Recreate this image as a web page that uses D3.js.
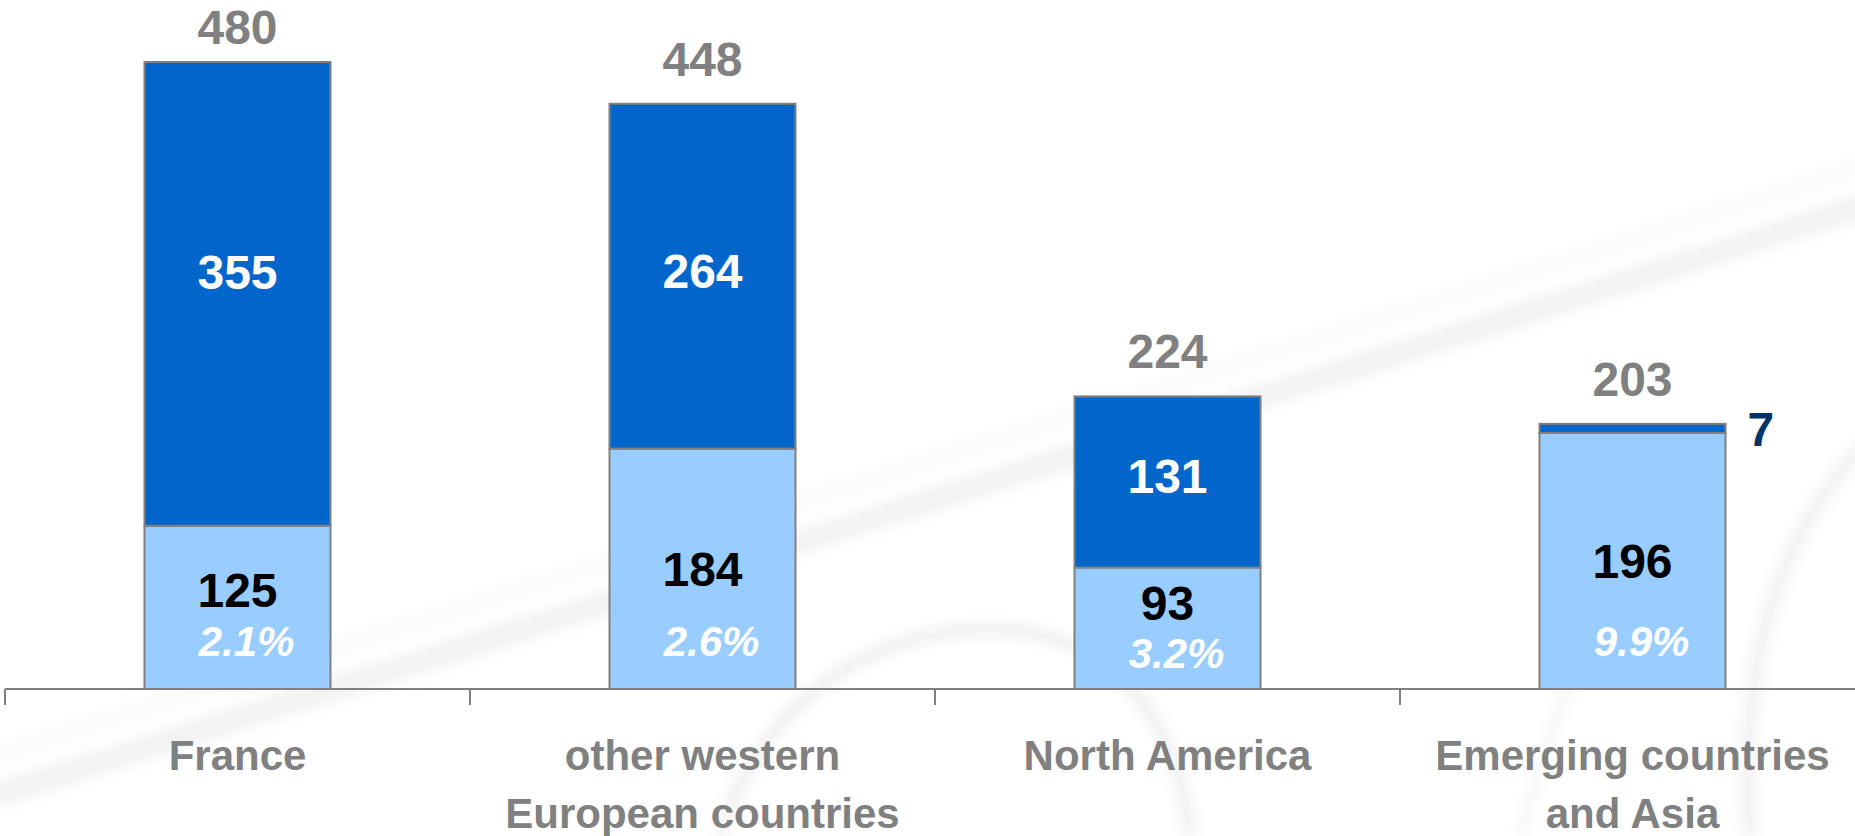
<!DOCTYPE html>
<html>
<head>
<meta charset="utf-8">
<script src="https://cdn.jsdelivr.net/npm/d3@7"></script>
<style>
  html, body { margin: 0; padding: 0; background: #ffffff; }
  svg { display: block; }
  text { font-family: "Liberation Sans", Arial, sans-serif; font-weight: bold; }
</style>
</head>
<body>
<svg id="chart" width="1855" height="836"></svg>
<script>
// Regions and their two revenue components
const categories = ["France", "other western\nEuropean countries", "North America", "Emerging countries\nand Asia"];
const baseValues = [125, 184, 93, 196];
const topValues = [355, 264, 131, 7];
const totals = [480, 448, 224, 203];
const growthLabels = ["2.1%", "2.6%", "3.2%", "9.9%"];

const W = 1855, H = 836;
const svg = d3.select("#chart");

// Soft decorative swooshes in the background
const defs = svg.append("defs");
defs.append("filter").attr("id", "soft").attr("x", "-20%").attr("y", "-20%").attr("width", "140%").attr("height", "140%")
  .append("feGaussianBlur").attr("stdDeviation", 7);
const deco = svg.append("g").attr("filter", "url(#soft)");
deco.append("path")
  .attr("d", "M -20 800 C 500 640, 1200 420, 1880 200")
  .attr("fill", "none").attr("stroke", "#f2f2f2").attr("stroke-width", 24);
deco.append("path")
  .attr("d", "M -20 760 C 500 600, 1200 380, 1880 160")
  .attr("fill", "none").attr("stroke", "#f8f8f8").attr("stroke-width", 12);
deco.append("path")
  .attr("d", "M 720 836 C 760 700, 880 620, 1010 630 C 1130 640, 1180 740, 1190 836")
  .attr("fill", "none").attr("stroke", "#ebebeb").attr("stroke-width", 10);
deco.append("path")
  .attr("d", "M 1750 836 C 1740 700, 1760 540, 1880 430")
  .attr("fill", "none").attr("stroke", "#efefef").attr("stroke-width", 12);
deco.append("path")
  .attr("d", "M 1520 836 C 1560 700, 1600 560, 1720 500")
  .attr("fill", "none").attr("stroke", "#f4f4f4").attr("stroke-width", 8);

// Scales
const x = d3.scaleBand()
  .domain(d3.range(categories.length))
  .range([5, 1865])
  .paddingInner(0.6)
  .paddingOuter(0.3);

const y = d3.scaleLinear().domain([0, 480]).range([689, 62]);

const rows = categories.map((c, i) => ({ i, base: baseValues[i], top: topValues[i] }));
const stack = d3.stack().keys(["base", "top"]);
const series = stack(rows);
const fills = { base: "#99CCFF", top: "#0066CC" };

// Stacked segments
const gBars = svg.append("g");
series.forEach(s => {
  gBars.selectAll(null)
    .data(s)
    .join("rect")
    .attr("x", d => x(d.data.i))
    .attr("width", x.bandwidth())
    .attr("y", d => y(d[1]))
    .attr("height", d => y(d[0]) - y(d[1]))
    .attr("fill", fills[s.key])
    .attr("stroke", "#808080")
    .attr("stroke-width", 2);
});

// Category axis: baseline with separator ticks between regions
const axisY = y(0);
const gAxis = svg.append("g");
gAxis.append("line")
  .attr("x1", x.range()[0]).attr("x2", W)
  .attr("y1", axisY).attr("y2", axisY)
  .attr("stroke", "#808080").attr("stroke-width", 2);
gAxis.selectAll(null)
  .data(d3.range(categories.length))
  .join("line")
  .attr("x1", i => x(i) - x.step() * x.paddingOuter())
  .attr("x2", i => x(i) - x.step() * x.paddingOuter())
  .attr("y1", axisY).attr("y2", axisY + 16)
  .attr("stroke", "#808080").attr("stroke-width", 2);

// Category labels
const gCat = svg.append("g");
categories.forEach((c, i) => {
  const t = gCat.append("text")
    .attr("x", x(i) + x.bandwidth() / 2)
    .attr("y", 770)
    .attr("text-anchor", "middle")
    .attr("fill", "#808080")
    .attr("font-size", 42);
  c.split("\n").forEach((line, k) => {
    t.append("tspan").attr("x", x(i) + x.bandwidth() / 2).attr("dy", k === 0 ? 0 : 58).text(line);
  });
});

// Totals above bars
svg.append("g").selectAll("text")
  .data(totals)
  .join("text")
  .attr("x", (d, i) => x(i) + x.bandwidth() / 2)
  .attr("y", d => Math.max(y(d) - 28, 44))
  .attr("text-anchor", "middle")
  .attr("fill", "#808080")
  .attr("font-size", 48)
  .text(d => d);

// Labels for the upper (dark) segments
const gLab = svg.append("g");
series[1].forEach((d, i) => {
  const h = y(d[0]) - y(d[1]);
  const cx = x(i) + x.bandwidth() / 2;
  if (h < 30) {
    gLab.append("text")
      .attr("x", x(i) + x.bandwidth() + 22)
      .attr("y", (y(d[0]) + y(d[1])) / 2)
      .attr("dy", "0.36em")
      .attr("fill", "#003366")
      .attr("font-size", 48)
      .text(topValues[i]);
  } else {
    gLab.append("text")
      .attr("x", cx)
      .attr("y", Math.min((y(d[0]) + y(d[1])) / 2 - 6, y(d[1]) + 210))
      .attr("dy", "0.36em")
      .attr("text-anchor", "middle")
      .attr("fill", "#ffffff")
      .attr("font-size", 48)
      .text(topValues[i]);
  }
});

// Labels for the lower (light) segments with growth rates beneath
series[0].forEach((d, i) => {
  const h = y(d[0]) - y(d[1]);
  const mid = (y(d[0]) + y(d[1])) / 2;
  const cx = x(i) + x.bandwidth() / 2;
  let valueY, pctY;
  if (h < 130) {
    valueY = mid - 26;
    pctY = mid + 25;
  } else {
    pctY = 641;
    valueY = Math.min(mid, pctY - 51);
  }
  gLab.append("text")
    .attr("x", cx)
    .attr("y", valueY)
    .attr("dy", "0.36em")
    .attr("text-anchor", "middle")
    .attr("fill", "#000000")
    .attr("font-size", 48)
    .text(baseValues[i]);
  gLab.append("text")
    .attr("x", cx + 9)
    .attr("y", pctY)
    .attr("dy", "0.36em")
    .attr("text-anchor", "middle")
    .attr("fill", "#ffffff")
    .attr("font-size", 42)
    .attr("font-style", "italic")
    .text(growthLabels[i]);
});
</script>
</body>
</html>
